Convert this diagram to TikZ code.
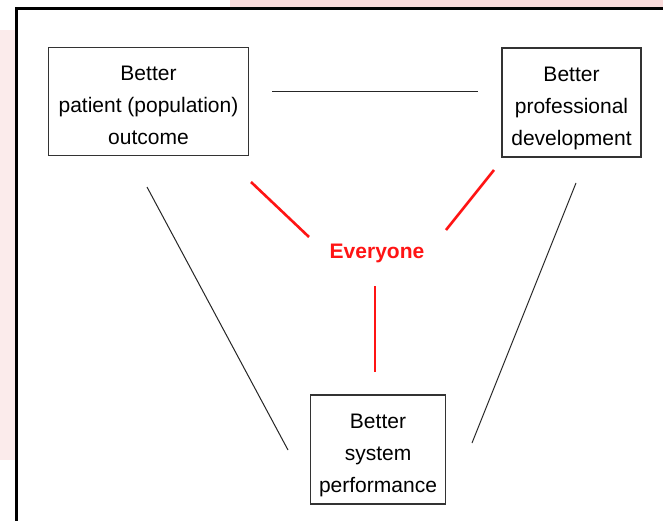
\documentclass[tikz,border=0pt]{standalone}
\usepackage{fontspec}
\setmainfont{Liberation Sans}
\usepackage{tikz}

\definecolor{bgpink}{RGB}{248,218,218}
\definecolor{linkred}{RGB}{255,20,20}

\tikzset{
  goalbox/.style={draw=black!80, line width=1.3, fill=white, align=center,
    inner sep=0, text height=86, text depth=0, font=\fontsize{21}{32}\selectfont},
  plainlink/.style={-, line width=1, color=black!85},
  redlink/.style={-, line width=2.6, color=linkred},
}

\begin{document}
\begin{tikzpicture}[x=1pt, y=-1pt]
\useasboundingbox (0, 0) rectangle (663, 521);

% background of the slide
\fill[bgpink] (230, 0) rectangle (663, 7);
\fill[bgpink!55] (0, 30) rectangle (15, 460);
\fill[white] (16, 8) rectangle (663, 521);
\draw[-, line width=2.4, color=black] (16.5, 521) -- (16.5, 8.5) -- (663, 8.5);

% the three goals
\node[goalbox, minimum width=200, minimum height=108] (patient) at (148.5, 101.5) {Better\\patient (population)\\outcome};
\node[goalbox, minimum width=139, minimum height=109] (professional) at (571.5, 102.5) {Better\\professional\\development};
\node[goalbox, minimum width=135, minimum height=109] (system) at (378, 449.5) {Better\\system\\performance};

\node[font=\fontsize{21}{25}\selectfont\bfseries, color=linkred] (everyone) at (377, 253.5) {Everyone};

% end points of the links
\coordinate (top left) at (272, 92);
\coordinate (top right) at (478, 92);
\coordinate (left top) at (147, 187);
\coordinate (left bottom) at (288, 450);
\coordinate (right top) at (576, 183);
\coordinate (right bottom) at (472, 443);
\coordinate (red a1) at (251, 182);
\coordinate (red a2) at (309, 237);
\coordinate (red b1) at (494, 170);
\coordinate (red b2) at (446, 230);
\coordinate (red c1) at (375, 286);
\coordinate (red c2) at (375, 372);

\draw[plainlink] (top left) -- (top right);
\draw[plainlink] (left top) -- (left bottom);
\draw[plainlink] (right top) -- (right bottom);

\draw[redlink] (red a1) -- (red a2);
\draw[redlink] (red b1) -- (red b2);
\draw[redlink] (red c1) -- (red c2);

\end{tikzpicture}
\end{document}
